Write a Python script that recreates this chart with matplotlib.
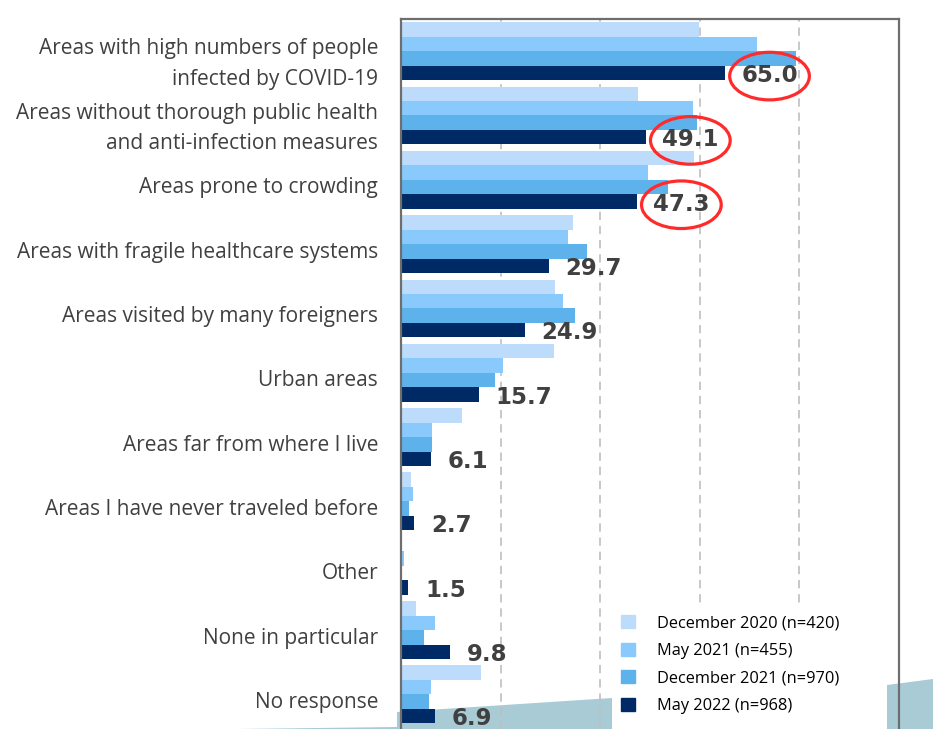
import numpy as np
import matplotlib
matplotlib.use("Agg")
import matplotlib.pyplot as plt
import matplotlib.transforms as mtransforms
from matplotlib.patches import Ellipse, Patch, Polygon, Rectangle

categories = [
    "Areas with high numbers of people\ninfected by COVID-19",
    "Areas without thorough public health\nand anti-infection measures",
    "Areas prone to crowding",
    "Areas with fragile healthcare systems",
    "Areas visited by many foreigners",
    "Urban areas",
    "Areas far from where I live",
    "Areas I have never traveled before",
    "Other",
    "None in particular",
    "No response",
]
series_names = [
    "December 2020 (n=420)",
    "May 2021 (n=455)",
    "December 2021 (n=970)",
    "May 2022 (n=968)",
]
dec2020 = [59.8, 47.6, 58.9, 34.6, 31.0, 30.8, 12.2, 2.1, 0.0, 3.1, 16.0]
may2021 = [71.5, 58.7, 49.5, 33.5, 32.6, 20.4, 6.3, 2.4, 0.7, 6.9, 6.1]
dec2021 = [79.4, 59.5, 53.6, 37.3, 35.0, 18.8, 6.2, 1.7, 0.3, 4.6, 5.7]
may2022 = [65.0, 49.1, 47.3, 29.7, 24.9, 15.7, 6.1, 2.7, 1.5, 9.8, 6.9]
highlight = [0, 1, 2]  # circled in red

colors = ["#bddcfb", "#89c9fc", "#5db2ec", "#002a66"]
text_col = "#404040"

W, H = 933, 729


def px(x, y):
    # pixel position (from top-left) -> figure fraction
    return (x / W, 1 - y / H)


fig = plt.figure(figsize=(W / 100, H / 100), dpi=100)
ax = fig.add_axes([401 / W, -4 / H, 498 / W, 714 / H])
ax.patch.set_alpha(0)

y = np.arange(len(categories))
h = 0.225
all_series = [dec2020, may2021, dec2021, may2022]
for k, vals in enumerate(all_series):
    ax.barh(y + (k - 1.5) * h, vals, height=h, color=colors[k],
            label=series_names[k], zorder=2)

# value labels on the latest series
for i, v in enumerate(may2022):
    yy = i + 1.5 * h
    ax.annotate(f"{v:.1f}", (v, yy), xytext=(12, -2), textcoords="offset points",
                ha="left", va="center", fontsize=16.5, fontweight="bold",
                color=text_col, family="DejaVu Sans", zorder=4)
    if i in highlight:
        ax.add_patch(Ellipse((v + 9.0, yy + 0.05), 16, 0.74, fill=False,
                             edgecolor="#ff2b2b", lw=2.3, zorder=5, clip_on=False))

ax.set_xlim(0, 100)
ax.set_ylim(10.6, -0.5)
ax.set_xticks([20, 40, 60, 80])
ax.tick_params(axis="x", length=0, labelbottom=False)
ax.grid(axis="x", color="#bfbfbf", lw=1.2, ls=(0, (5, 3.5)))
ax.set_axisbelow(True)

ax.set_yticks(y, categories)
ax.tick_params(axis="y", length=0, pad=16.5, labelsize=15, labelcolor=text_col)
shift = mtransforms.ScaledTranslation(0, -4 / 72, fig.dpi_scale_trans)
for t in ax.get_yticklabels():
    t.set_family("Open Sans")
    t.set_linespacing(1.6)
    t.set_transform(t.get_transform() + shift)

for s in ["left", "top", "right"]:
    ax.spines[s].set_color("#6e6e6e")
    ax.spines[s].set_linewidth(1.6)
ax.spines["bottom"].set_visible(False)

# teal decoration behind the chart
teal = "#a8cbd6"
fig.add_artist(Polygon([px(238, 729), px(397, 727), px(397, 712), px(612, 698), px(612, 729)],
                       closed=True, transform=fig.transFigure, color=teal, lw=0, zorder=-1))
fig.add_artist(Polygon([px(887, 729), px(887, 685), px(933, 679), px(933, 729)],
                       closed=True, transform=fig.transFigure, color=teal, lw=0, zorder=-1))
# white box behind the legend
fig.add_artist(Rectangle(px(612, 729), (887 - 612) / W, (729 - 603) / H,
                         transform=fig.transFigure, color="white", lw=0, zorder=1))

handles = [Patch(color=c) for c in colors]
fig.legend(handles, series_names, loc="upper left", bbox_to_anchor=px(621, 615),
           frameon=False, prop={"family": "Open Sans", "size": 11.8},
           handlelength=0.85, handleheight=0.85, handletextpad=1.35,
           labelspacing=0.69, borderaxespad=0, borderpad=0)

fig.savefig("out.png", dpi=100)
